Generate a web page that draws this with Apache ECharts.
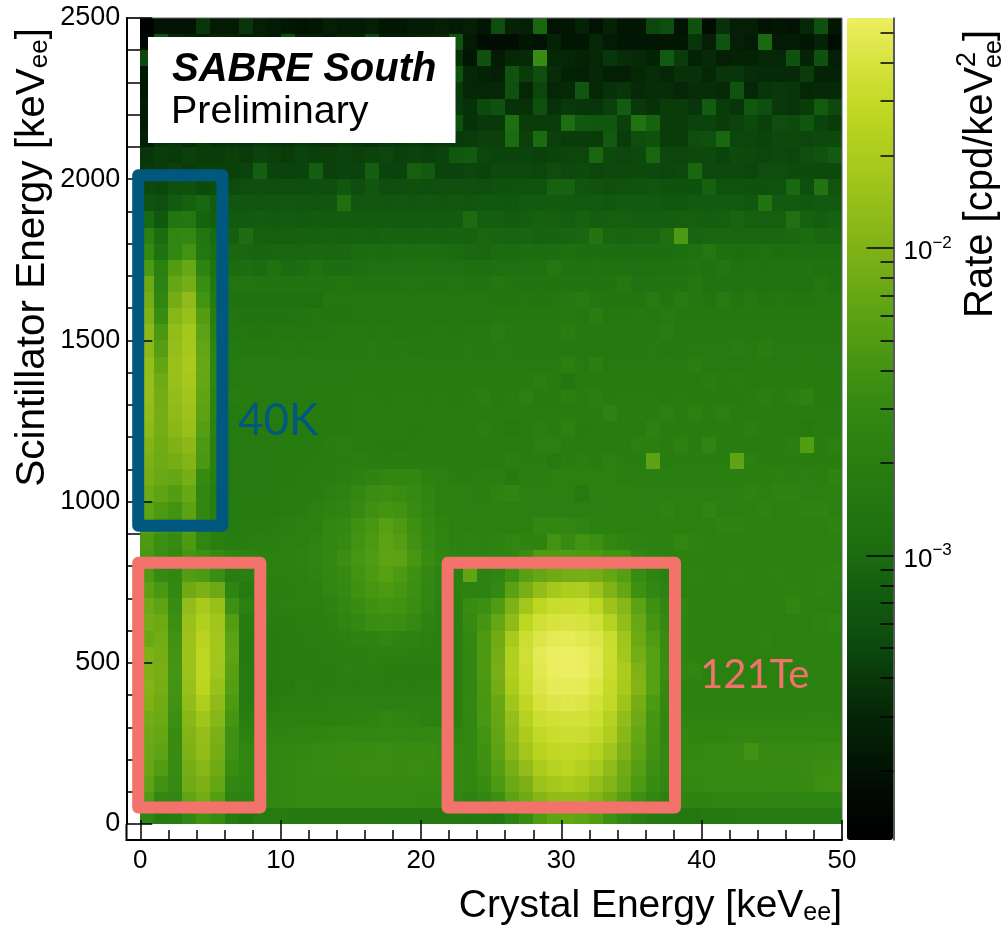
<!DOCTYPE html>
<html>
<head>
<meta charset="utf-8">
<title>SABRE South</title>
<script src="https://cdn.jsdelivr.net/npm/echarts@6/dist/echarts.min.js"></script>
<style>
  html, body { margin: 0; padding: 0; background: #fff; }
  #chart { width: 1007px; height: 926px; }
</style>
</head>
<body>
<div id="chart"></div>
<script>
// bin sizes of the histogram, keV
const crystalBin = 1;
const scintBin = 50;

// rate, in units of 1e-5 cpd/keV^2
// first row is the top of the plot (2450-2500 keV), each row runs 0-50 keV in crystal energy
const rateRows = [
[14,20,20,20,38,24,24,38,26,24,22,20,22,26,24,24,26,22,22,24,24,26,24,26,22,55,28,26,90,20,22,28,20,28,22,22,48,55,20,60,18,36,26,26,20,22,20,30,58,22],
[16,60,30,28,26,30,28,26,28,24,55,26,28,24,30,28,48,26,26,28,30,30,62,24,18,18,18,22,20,28,22,22,30,24,22,22,22,22,22,38,26,62,26,24,95,24,24,22,28,18],
[50,28,30,26,32,28,30,26,34,30,28,32,26,30,34,28,30,26,32,28,30,28,35,22,58,24,30,32,330,30,30,28,30,38,34,32,28,72,42,28,32,26,28,28,30,30,60,28,60,26],
[22,30,28,32,26,34,28,30,32,28,34,26,30,28,32,30,26,34,28,30,32,28,60,30,28,26,62,42,56,34,28,26,30,26,26,30,34,30,36,36,30,38,38,34,32,32,32,42,28,28],
[22,32,30,28,34,30,28,32,30,34,28,30,32,34,30,28,32,30,34,30,32,30,40,30,30,30,58,30,48,30,32,66,30,36,38,32,34,34,30,34,34,32,62,30,38,40,38,30,32,32],
[24,34,32,36,30,34,38,32,34,30,36,34,32,30,36,34,38,32,34,36,32,34,40,36,50,60,36,36,58,36,40,38,38,44,75,40,36,42,42,38,76,42,38,70,56,40,38,42,75,50],
[24,36,34,38,32,36,34,40,36,38,34,36,40,38,36,34,38,36,40,36,38,36,58,36,40,40,110,42,42,42,105,68,66,66,44,130,85,42,42,46,46,42,46,50,44,54,52,66,46,42],
[26,36,38,34,40,36,38,36,40,38,36,40,38,36,42,38,36,40,38,42,38,40,40,42,44,44,100,44,100,44,42,42,42,72,42,54,60,42,42,54,58,92,48,48,46,50,50,48,50,50],
[38,42,40,44,42,42,44,42,46,44,42,46,44,44,46,44,46,48,44,46,44,46,70,72,48,46,46,46,44,46,48,48,90,50,48,50,90,48,48,50,50,46,52,50,48,50,48,56,62,75],
[40,42,44,42,44,44,44,46,78,46,46,46,78,44,46,46,78,46,46,80,72,46,46,48,46,50,50,50,48,54,50,52,48,50,50,52,50,48,50,92,50,50,50,48,54,54,52,52,50,50],
[50,48,58,60,52,54,52,54,56,54,56,54,56,56,70,56,66,54,56,58,56,58,58,58,56,60,60,62,62,85,85,64,62,58,62,62,64,60,60,60,82,62,62,60,60,62,95,56,135,64],
[62,58,72,82,92,76,66,66,64,66,68,66,64,66,108,66,68,66,68,66,68,66,68,66,68,70,66,72,72,72,72,72,72,70,72,72,72,70,70,72,72,72,72,70,135,72,72,70,72,72],
[95,70,145,150,85,78,72,72,74,72,74,72,76,74,74,76,74,76,74,76,76,76,76,100,78,78,76,78,82,80,78,84,78,80,80,78,78,78,80,80,78,80,88,80,80,80,115,82,78,84],
[220,100,270,300,140,100,80,105,82,80,80,82,82,84,82,84,82,86,84,84,86,84,86,84,90,88,86,88,84,86,88,92,135,90,88,90,90,110,480,88,90,92,90,92,92,92,96,100,92,92],
[310,125,290,400,150,110,92,90,88,90,92,90,92,94,92,100,102,100,104,102,104,102,100,96,94,100,100,104,102,104,108,106,104,104,104,104,104,104,112,118,150,110,106,108,118,106,108,110,108,108],
[480,220,520,720,250,130,100,104,100,125,100,104,125,104,106,112,116,114,118,116,120,116,114,110,108,118,118,124,122,150,122,122,126,122,122,118,120,122,124,132,124,146,122,126,124,130,126,134,124,124],
[750,240,680,850,340,150,135,140,138,136,136,134,138,134,142,134,138,136,138,140,136,138,140,136,138,150,134,132,132,132,134,134,132,132,155,130,130,132,132,155,130,130,130,132,130,130,130,130,150,130],
[870,270,840,1250,400,170,125,122,120,118,118,120,118,150,152,150,148,150,152,150,150,152,148,150,150,146,146,148,146,148,160,170,148,146,146,146,175,146,175,148,146,170,146,160,146,148,146,146,148,148],
[1000,330,1100,1450,530,200,140,138,136,138,136,140,150,142,146,150,150,152,150,152,150,152,152,150,152,154,154,156,156,156,170,154,200,156,156,165,156,175,156,154,158,156,156,156,154,156,158,156,158,156],
[1200,460,1300,1750,600,230,150,148,146,150,150,150,148,158,172,160,156,160,158,156,158,160,158,160,160,190,162,162,160,160,190,160,160,160,162,160,162,190,162,162,160,160,160,160,160,162,160,162,160,162],
[1200,540,1400,1800,660,260,160,156,156,158,160,158,160,160,160,162,175,164,175,164,162,164,164,166,164,166,168,165,165,165,165,165,165,165,165,165,168,160,162,168,168,168,190,168,200,168,166,170,166,166],
[1350,650,1500,1900,700,260,170,168,172,185,172,172,170,172,174,176,174,178,176,180,176,178,176,178,178,176,174,176,176,176,205,176,210,176,178,176,178,180,176,210,178,176,178,176,178,176,176,180,176,176],
[1400,780,1450,1800,680,260,172,176,170,172,176,176,174,176,178,182,184,180,186,182,180,182,180,182,180,180,180,182,205,182,150,182,180,184,182,184,182,184,182,182,200,186,188,186,182,186,184,182,184,184],
[1400,830,1350,1650,640,250,190,180,172,175,178,178,182,186,184,192,188,186,190,188,186,188,186,190,210,186,188,225,186,186,210,188,210,186,188,190,188,186,188,186,186,186,186,188,205,188,210,240,186,186],
[1300,850,1250,1550,600,240,178,176,180,178,182,180,184,186,186,196,190,188,192,190,190,192,188,192,190,188,190,190,190,192,190,190,195,240,194,196,194,215,192,225,190,225,190,192,190,194,190,192,192,192],
[1200,850,1150,1450,540,230,174,172,176,178,180,182,184,186,184,188,190,188,188,186,190,192,190,192,210,190,172,190,210,192,235,186,192,192,192,190,230,190,192,192,190,190,192,210,194,192,190,172,192,192],
[1050,800,1000,1200,480,220,170,168,172,176,180,182,186,200,205,188,190,186,186,190,188,190,190,192,190,190,190,194,215,215,190,190,190,190,192,215,210,190,235,190,260,192,192,190,192,192,205,520,196,220],
[950,770,880,1050,460,210,174,172,176,178,184,186,188,192,200,210,200,192,200,196,190,196,192,196,190,192,215,196,196,170,196,210,194,220,196,196,600,192,196,196,196,196,640,225,200,198,200,198,198,200],
[880,730,680,880,320,200,172,170,174,176,184,190,196,200,205,235,250,270,290,280,230,215,200,200,204,206,175,206,206,225,225,225,225,225,206,206,206,206,210,206,206,206,206,208,208,225,206,212,208,255],
[740,620,520,720,290,190,175,178,176,180,190,196,196,215,240,300,340,350,335,310,260,225,215,215,210,240,265,214,212,212,214,170,212,214,235,212,214,214,214,212,212,214,214,240,214,240,240,212,212,216],
[620,480,400,600,270,190,180,180,182,186,190,195,215,240,260,320,385,410,390,325,270,230,215,215,218,218,216,218,216,216,216,218,218,216,218,218,216,245,216,216,260,216,218,218,240,216,218,245,245,220],
[550,420,360,520,280,200,185,190,190,196,205,215,225,270,300,380,440,560,480,370,300,250,225,225,225,225,225,225,280,280,280,260,230,230,225,225,225,225,225,225,225,255,255,225,225,225,225,225,225,250],
[480,350,320,470,270,210,190,200,205,205,215,225,250,290,320,400,470,600,540,390,310,260,235,240,235,240,270,255,250,400,320,400,360,290,250,240,235,235,270,240,235,235,235,235,235,235,235,235,235,235],
[450,350,300,420,370,320,260,240,220,220,230,240,260,300,350,430,490,620,600,430,330,270,240,240,240,250,260,340,500,500,510,480,460,400,400,270,240,235,235,235,235,235,235,235,235,235,235,235,235,235],
[480,320,290,520,480,340,190,210,220,220,220,230,250,280,320,400,480,560,470,380,300,240,220,650,240,260,370,560,690,780,870,880,830,670,540,330,250,230,240,240,235,235,240,235,235,240,235,235,240,250],
[590,450,300,780,950,760,260,170,200,205,210,220,230,270,310,380,430,480,430,360,290,240,220,240,240,300,580,900,1350,1800,2000,2050,1550,1020,670,370,290,240,235,235,235,235,235,235,235,235,240,235,240,235],
[750,620,330,1300,1900,1450,370,220,195,205,215,220,225,240,280,330,380,410,390,340,270,225,215,330,360,500,960,1700,2700,3200,3300,3400,2700,1550,1100,600,370,290,270,235,225,230,225,230,235,230,270,230,225,225],
[830,750,350,1500,2200,1650,520,180,190,195,200,205,210,220,260,300,340,350,340,310,240,215,210,320,420,680,1250,2700,3700,4000,4150,4100,3600,2400,1300,720,420,310,260,225,225,225,225,225,225,230,225,225,240,260],
[720,830,390,1550,2500,1700,580,170,175,185,190,200,205,210,220,245,255,270,250,240,220,205,205,300,480,800,1900,3400,4400,4900,5100,4800,4400,3300,1650,760,490,330,250,230,230,225,225,230,240,225,225,225,230,230],
[960,870,410,1550,2700,1700,620,165,170,180,190,195,200,205,205,210,215,220,215,210,205,200,205,290,480,850,2200,3600,4900,5500,5600,5400,4800,3400,1750,850,560,330,250,230,225,225,225,225,225,230,225,230,225,225],
[960,900,420,1550,2700,1650,560,170,170,180,190,195,195,200,215,205,205,200,200,195,200,200,205,290,480,900,2200,3400,4700,5400,5600,5500,4700,3300,1950,1000,560,350,270,270,225,225,225,225,225,225,225,230,225,225],
[1030,880,400,1450,2600,1500,540,170,170,175,185,205,195,200,205,200,205,200,205,195,205,205,210,290,460,840,1950,3200,4400,5000,5100,5000,4300,3100,1900,1050,560,320,240,230,225,225,225,230,225,225,225,230,225,225],
[960,800,390,1300,2050,1250,480,175,180,190,205,210,210,215,215,215,215,215,215,215,215,220,220,295,440,720,1650,2800,4000,4400,4600,4400,3800,2900,1600,850,470,300,240,235,235,235,235,235,235,235,235,235,235,235],
[840,740,360,1150,1650,1100,420,195,210,220,225,225,225,225,235,240,250,270,260,250,230,225,225,290,450,680,1400,2400,3400,3700,3850,3800,3500,2400,1300,770,420,290,250,250,255,250,250,250,250,250,250,255,260,255],
[760,680,330,1050,1400,950,370,230,240,250,255,260,265,270,280,285,290,300,295,290,295,280,265,280,400,650,1250,1950,2900,3300,3400,3350,3000,2050,1150,680,410,290,285,265,265,265,270,270,270,270,270,275,275,275],
[710,620,330,980,1300,880,370,270,265,270,290,300,310,315,325,335,335,340,335,335,335,320,300,290,380,600,1100,1700,2500,2850,2950,2850,2400,1650,1000,620,390,300,295,300,310,310,315,390,320,320,320,320,325,325],
[680,510,330,870,1120,780,330,270,270,285,300,320,325,330,330,335,340,340,335,340,335,330,310,290,370,540,880,1350,1950,2400,2600,2300,1900,1250,800,540,360,300,305,310,320,320,320,320,320,320,320,325,345,355],
[610,390,320,800,950,680,290,260,260,270,295,305,310,315,315,320,320,320,320,315,315,310,295,280,330,470,760,950,1550,1800,1950,1800,1400,1050,720,470,330,270,285,300,310,310,310,310,310,315,315,320,365,375],
[500,300,290,650,820,540,240,250,260,290,300,305,310,310,310,310,310,310,310,310,300,290,280,240,290,360,600,780,1080,1280,1350,1280,1050,780,550,370,290,230,250,255,255,260,260,260,260,260,260,260,260,260],
[260,185,190,280,390,330,170,145,170,175,170,165,165,165,165,165,165,165,170,165,165,165,160,155,165,150,230,330,500,640,690,620,530,370,280,210,165,155,150,150,160,165,170,170,170,170,170,170,170,175]
];

// colour bar
const rateMin = 1.19e-4;
const rateMax = 0.0559;
const majorRates = [1e-3, 1e-2];
const minorRates = [2e-4,3e-4,4e-4,5e-4,6e-4,7e-4,8e-4,9e-4,2e-3,3e-3,4e-3,5e-3,6e-3,7e-3,8e-3,9e-3,2e-2,3e-2,4e-2,5e-2];
const palette = ['#000000','#010a02','#031c04','#072f08','#0d4a0d','#125a0f','#1c6e10','#237710','#2a8010','#348912',
                 '#489712','#60a414','#7aaf16','#92bc19','#a9ca1d','#bdd621','#d4e23a','#ecef62'];

// highlighted regions: crystal from/to, scintillator from/to, colour
const regionBoxes = [
  [-0.15, 5.85, 925, 2012, '#00587f'],
  [-0.15, 8.55, 51, 810, '#f3726c'],
  [21.9, 38.1, 51, 810, '#f3726c']
];

const cells = [];
rateRows.forEach(function (row, r) {
  row.forEach(function (v, c) {
    let rate = v * 1e-5;
    cells.push([c * crystalBin, 2500 - (r + 1) * scintBin, rate, Math.log10(rate)]);
  });
});

const font = 'Liberation Sans';
let chart = echarts.init(document.getElementById('chart'));

chart.setOption({
  animation: false,
  textStyle: { fontFamily: font, color: '#000' },
  grid: [
    { left: 140.3, right: 165, top: 18, bottom: 102 },
    { left: 847, right: 113.5, top: 18, bottom: 86 },
    { left: 847, right: 113.5, top: 18, bottom: 86 }
  ],
  xAxis: [
    {
      type: 'value', gridIndex: 0, min: 0, max: 50, interval: 10, offset: 16,
      position: 'bottom', z: 3,
      splitLine: { show: false },
      axisLine: { show: true, onZero: false, lineStyle: { color: '#000', width: 2 } },
      axisTick: { show: true, inside: true, length: 20, lineStyle: { color: '#000', width: 1.5 } },
      minorTick: { show: true, splitNumber: 5, length: 10, lineStyle: { color: '#000', width: 1.5 } },
      axisLabel: { fontSize: 26, margin: 8, color: '#000', fontFamily: font, showMinLabel: true, showMaxLabel: true, hideOverlap: false, formatter: function (v) { return String(v); } },
      name: '{n|Crystal Energy [keV}{s|ee}{n|]}',
      nameLocation: 'end', nameGap: 0, nameMoveOverlap: false,
      nameTextStyle: {
        align: 'right', verticalAlign: 'top', padding: [43, 0, 0, 0],
        rich: {
          n: { fontSize: 39, fontFamily: font, color: '#000', lineHeight: 46 },
          s: { fontSize: 25, fontFamily: font, color: '#000', lineHeight: 46, padding: [14, 0, 0, 0] }
        }
      }
    },
    { type: 'value', gridIndex: 1, min: 0, max: 1, show: false },
    { type: 'value', gridIndex: 2, min: 0, max: 1, show: false }
  ],
  yAxis: [
    {
      type: 'value', gridIndex: 0, min: 0, max: 2500, interval: 500, offset: 14,
      position: 'left', z: 3,
      splitLine: { show: false },
      axisLine: { show: true, onZero: false, lineStyle: { color: '#000', width: 2 } },
      axisTick: { show: true, inside: true, length: 26, lineStyle: { color: '#000', width: 1.5 } },
      minorTick: { show: true, splitNumber: 5, length: 14, lineStyle: { color: '#000', width: 1.5 } },
      axisLabel: { fontSize: 27, margin: 6, padding: [3, 0, 0, 0], color: '#000', fontFamily: font, showMinLabel: true, showMaxLabel: true, hideOverlap: false, formatter: function (v) { return String(v); } },
      name: '{n|Scintillator Energy [keV}{s|ee}{n|]}',
      nameLocation: 'end', nameRotate: 90, nameGap: -10, nameMoveOverlap: false,
      nameTextStyle: {
        align: 'right', verticalAlign: 'bottom', padding: [0, 0, 70, 0],
        rich: {
          n: { fontSize: 40.5, fontFamily: font, color: '#000', lineHeight: 46 },
          s: { fontSize: 26, fontFamily: font, color: '#000', lineHeight: 46, padding: [14, 0, 0, 0] }
        }
      }
    },
    {
      type: 'log', gridIndex: 1, min: rateMin, max: rateMax, position: 'right', z: 6,
      splitLine: { show: false },
      axisLine: { show: true, onZero: false, lineStyle: { color: '#222', width: 1.5 } },
      axisTick: { show: true, inside: true, length: 27, customValues: majorRates, lineStyle: { color: '#000', width: 1.5 } },
      axisLabel: {
        customValues: majorRates, margin: 10, fontSize: 26,
        formatter: function (v) {
          return '{b|10}{e|\u2212' + Math.round(-Math.log10(v)) + '}';
        },
        rich: {
          b: { fontSize: 26, fontFamily: font, color: '#000', lineHeight: 34, padding: [8, 0, 0, 0] },
          e: { fontSize: 17, fontFamily: font, color: '#000', lineHeight: 34, padding: [0, 0, 10, 0] }
        }
      }
    },
    {
      type: 'log', gridIndex: 2, min: rateMin, max: rateMax, position: 'right', z: 6,
      splitLine: { show: false },
      axisLine: { show: false, onZero: false },
      axisLabel: { show: false },
      axisTick: { show: true, inside: true, length: 13, customValues: minorRates, lineStyle: { color: '#000', width: 1.5 } }
    }
  ],
  visualMap: {
    type: 'continuous',
    seriesIndex: 0,
    dimension: 3,
    min: Math.log10(rateMin),
    max: Math.log10(rateMax),
    inRange: { color: palette },
    calculable: false,
    realtime: false,
    hoverLink: false,
    text: null,
    showLabel: false,
    left: 847,
    top: 18,
    padding: 0,
    itemWidth: 46,
    itemHeight: 822
  },
  series: [
    {
      type: 'custom',
      name: 'rate',
      xAxisIndex: 0, yAxisIndex: 0, z: 1,
      data: cells,
      encode: { x: 0, y: 1 },
      silent: true,
      renderItem: function (params, api) {
        let x = api.value(0), y = api.value(1);
        let a = api.coord([x, y + scintBin]);
        let b = api.coord([x + crystalBin, y]);
        // snap to whole pixels, otherwise the cell edges show as light lines
        let left = Math.round(a[0]), top = Math.round(a[1]);
        return {
          type: 'rect',
          shape: { x: left, y: top, width: Math.round(b[0]) - left, height: Math.round(b[1]) - top },
          style: { fill: api.visual('color') }
        };
      }
    },
    {
      type: 'custom',
      name: 'regions',
      xAxisIndex: 0, yAxisIndex: 0, z: 4,
      data: regionBoxes,
      encode: { x: [0, 1], y: [2, 3] },
      silent: true,
      renderItem: function (params, api) {
        let a = api.coord([api.value(0), api.value(3)]);
        let b = api.coord([api.value(1), api.value(2)]);
        return {
          type: 'rect',
          shape: { x: a[0], y: a[1], width: b[0] - a[0], height: b[1] - a[1] },
          style: { fill: 'none', stroke: regionBoxes[params.dataIndex][4], lineWidth: 12, lineJoin: 'round' }
        };
      }
    }
  ],
  graphic: [
    // frame around the plot, the axes start at the first bin
    { type: 'polyline', z: 3, silent: true, shape: { points: [[140.3, 840], [126.5, 840], [126.5, 824]] }, style: { stroke: '#000', lineWidth: 2, fill: 'none' } },
    { type: 'polyline', z: 3, silent: true, shape: { points: [[126.5, 179], [126.5, 18], [842, 18], [842, 840]] }, style: { stroke: '#666', lineWidth: 1, fill: 'none' } },
    { type: 'rect', z: 5, silent: true, shape: { x: 148, y: 37, width: 307.5, height: 106 }, style: { fill: '#fff' } },
    { type: 'text', z: 6, silent: true, style: { x: 172, y: 70, text: 'SABRE South', font: 'italic bold 40px "Liberation Sans"', fill: '#000', textVerticalAlign: 'middle' } },
    { type: 'text', z: 6, silent: true, style: { x: 171, y: 112, text: 'Preliminary', font: '39.5px "Liberation Sans"', fill: '#000', textVerticalAlign: 'middle' } },
    { type: 'text', z: 6, silent: true, style: { x: 238, y: 421, text: '40K', font: '44px Lato', fill: '#00587f', textVerticalAlign: 'middle' } },
    { type: 'text', z: 6, silent: true, style: { x: 700, y: 675, text: '121Te', font: '40px Lato', fill: '#f3726c', textVerticalAlign: 'middle' } },
    // colour bar title, stacked super and subscript do not fit a rich label
    {
      type: 'group', x: 1001, y: 318, rotation: Math.PI / 2, silent: true,
      children: [
        { type: 'text', style: { x: 0, y: 0, text: 'Rate [cpd/keV', font: '40px "Liberation Sans"', fill: '#000', textVerticalAlign: 'bottom' } },
        { type: 'text', style: { x: 251, y: -20, text: '2', font: '27px "Liberation Sans"', fill: '#000', textVerticalAlign: 'bottom' } },
        { type: 'text', style: { x: 250, y: 6, text: 'ee', font: '25px "Liberation Sans"', fill: '#000', textVerticalAlign: 'bottom' } },
        { type: 'text', style: { x: 277, y: 0, text: ']', font: '40px "Liberation Sans"', fill: '#000', textVerticalAlign: 'bottom' } }
      ]
    }
  ]
});
</script>
</body>
</html>
